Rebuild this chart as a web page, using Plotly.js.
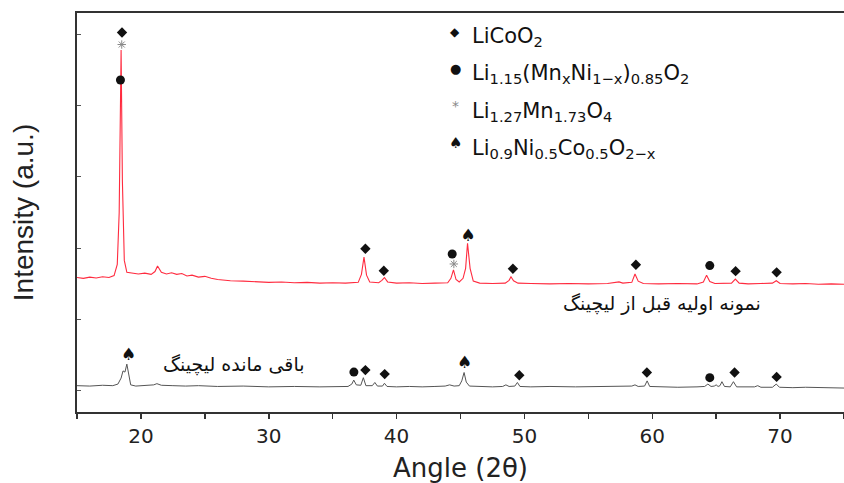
<!DOCTYPE html>
<html>
<head>
<meta charset="utf-8">
<script src="https://cdn.plot.ly/plotly-3.0.1.min.js"></script>
<style>html,body{margin:0;padding:0;background:#fff;}#chart{width:844px;height:483px;}</style>
</head>
<body>
<div id="chart"></div>
<script>
// Pattern before leaching (red)
const redAngle = [15,15.5,16,16.5,17,17.5,17.9,18.15,18.3,18.45,18.55,18.7,18.9,19.3,19.8,20.3,20.8,21.1,21.3,21.6,22.0,22.4,22.8,23.2,23.6,24.0,24.5,25.0,25.5,26.0,27,28,29,30,31,32,33,34,35,36,37.0,37.25,37.45,37.65,37.9,38.6,38.85,39.05,39.3,40,41,42,43,44.0,44.25,44.45,44.65,44.9,45.2,45.4,45.55,45.75,46.0,46.5,47.5,48.5,48.8,48.95,49.15,49.5,50.5,52,53.5,55,56.5,57.2,57.4,57.7,58.4,58.65,58.9,59.3,60.5,62,63.5,64.0,64.25,64.5,64.9,66.2,66.5,66.8,67.5,68.5,69.4,69.7,70.0,71,72,73,74,75];
const redInt = [33.7,33.5,33.8,33.6,33.9,33.7,34.2,37,50,90.7,58,38,35,34.9,34.6,34.8,34.5,35.2,36.6,35.0,34.6,34.9,34.5,34.7,34.1,34.3,33.8,34.0,33.5,33.2,32.9,32.8,32.6,32.5,32.6,32.4,32.5,32.3,32.4,32.3,32.5,34.5,38.8,34.3,32.6,32.4,33.0,33.7,32.6,32.3,32.4,32.2,32.3,32.4,33.5,35.6,33.2,32.6,33.5,36,42.3,36,32.8,32.3,32.2,32.3,33.0,33.9,32.9,32.3,32.2,32.1,32.2,32.1,32.2,32.4,32.6,32.3,32.5,34.6,32.8,32.2,32.1,32.2,32.1,32.6,34.3,32.7,32.2,32.3,33.3,32.3,32.1,32.2,32.3,32.9,32.2,32.1,32.2,32.0,32.1,32.0];

// Leaching residue (black)
const blackAngle = [15,16,17,17.8,18.2,18.45,18.6,18.75,18.9,19.05,19.2,19.6,20.5,21.0,21.25,21.6,22.5,23.5,24.5,26,28,30,32,34,36.2,36.5,36.65,36.85,37.2,37.4,37.6,38.1,38.3,38.5,38.9,39.05,39.25,40,41,42,43,43.8,44.15,44.5,44.9,45.1,45.28,45.45,45.7,46.5,47.5,48.3,48.55,48.8,49.25,49.45,49.65,50.5,52,54,56,57.5,58.4,58.65,58.9,59.4,59.6,59.8,60.5,62,63.5,64.1,64.35,64.6,64.85,65.0,65.15,65.3,65.45,65.65,66.1,66.35,66.6,67.5,68.0,68.25,68.5,69.4,69.7,69.95,71,72,73,74,75];
const blackInt = [6.6,6.5,6.7,6.6,7.0,8.5,10.3,10.0,12.0,9.0,6.8,6.5,6.6,6.8,7.1,6.7,6.6,6.5,6.6,6.4,6.5,6.3,6.4,6.3,6.4,7.0,8.0,6.8,6.7,8.6,6.6,6.6,7.4,6.5,6.5,7.2,6.4,6.3,6.4,6.3,6.4,6.5,6.8,6.5,6.6,7.8,9.9,7.5,6.5,6.4,6.3,6.4,6.8,6.4,6.5,7.4,6.4,6.3,6.4,6.3,6.4,6.3,6.5,6.8,6.4,6.5,7.8,6.4,6.3,6.2,6.3,6.4,7.0,6.4,6.5,6.8,6.4,6.6,7.6,6.4,6.3,7.6,6.3,6.2,6.3,6.6,6.2,6.2,7.0,6.2,6.1,6.2,6.1,6.1,6.0];

// Phase markers
const licoo2Angle = [18.52,37.56,39.0,49.1,58.72,66.52,69.73,37.56,39.07,49.6,59.58,66.44,69.73];
const licoo2Int = [95.1,40.9,35.4,35.9,36.9,35.3,35.0,10.5,9.5,9.2,9.9,9.9,8.8];
const limnniAngle = [18.4,44.35,64.5,36.66,64.5];
const limnniInt = [83.2,39.6,36.7,10.0,8.6];
const limnAngle = [18.5,44.48];
const limnInt = [92.1,37.1];
const linicoAngle = [45.6,19.04,45.33];
const linicoInt = [43.8,14.1,12.0];

// Legend entries
const legendSymbols = ['◆','●','*','♠'];
const legendLabels = [
  'LiCoO<sub>2</sub>',
  'Li<sub>1.15</sub>(Mn<sub>x</sub>Ni<sub>1\u2212x</sub>)<sub>0.85</sub>O<sub>2</sub>',
  'Li<sub>1.27</sub>Mn<sub>1.73</sub>O<sub>4</sub>',
  'Li<sub>0.9</sub>Ni<sub>0.5</sub>Co<sub>0.5</sub>O<sub>2\u2212x</sub>'
];
const legendSymbolSizes = [12,13,14,15];
const legendSymbolColors = ['#111','#111','#888','#111'];

const xTickVals = [20,30,40,50,60,70];
const xTickText = ['20','30','40','50','60','70'];

const sampleLabels = ['نمونه اولیه قبل از لیچینگ','باقی مانده لیچینگ'];
const sampleLabelAngle = [60.8, 27.3];
const sampleLabelInt = [27.1, 11.8];

const traces = [
  {x: redAngle, y: redInt, type:'scatter', mode:'lines', line:{color:'#ff2b3f', width:1.1}, hoverinfo:'skip'},
  {x: blackAngle, y: blackInt, type:'scatter', mode:'lines', line:{color:'#555', width:1}, hoverinfo:'skip'},
  {x: licoo2Angle, y: licoo2Int, type:'scatter', mode:'markers', marker:{symbol:'diamond', size:8, color:'#111'}},
  {x: limnniAngle, y: limnniInt, type:'scatter', mode:'markers', marker:{symbol:'circle', size:9, color:'#111'}},
  {x: limnAngle, y: limnInt, type:'scatter', mode:'markers', marker:{symbol:'asterisk-open', size:7, color:'#888', line:{color:'#888', width:1}}},
  {x: linicoAngle, y: linicoInt, type:'scatter', mode:'text', text: linicoAngle.map(()=> '♠'), textposition:'middle center', textfont:{family:'DejaVu Sans', size:17, color:'#111'}}
];

const legX0 = 0.493, legTextX = 0.512;
const legY = [0.953, 0.86, 0.767, 0.674];
const annotations = [];
legendLabels.forEach((lab, i) => {
  annotations.push({xref:'paper', yref:'paper', x: legX0, y: legY[i], text: legendSymbols[i], showarrow:false, xanchor:'center', yanchor:'middle', font:{family:'DejaVu Sans', size: legendSymbolSizes[i], color: legendSymbolColors[i]}});
  annotations.push({xref:'paper', yref:'paper', x: legTextX, y: legY[i] - 0.014, text: lab, showarrow:false, xanchor:'left', yanchor:'middle', font:{family:'DejaVu Sans', size:21, color:'#111'}});
});
sampleLabels.forEach((lab, i) => {
  annotations.push({x: sampleLabelAngle[i], y: sampleLabelInt[i], xref:'x', yref:'y', text: lab, showarrow:false, xanchor:'center', yanchor:'middle', font:{family:'DejaVu Sans', size:19, color:'#111'}});
});

const layout = {
  width: 844, height: 483,
  margin: {l:77, r:0, t:13, b:71},
  paper_bgcolor:'#fff', plot_bgcolor:'#fff',
  showlegend:false,
  xaxis: {
    range:[15,75], showgrid:false, zeroline:false,
    showline:true, linecolor:'#333', linewidth:2, mirror:true,
    ticks:'outside', ticklen:5, tickwidth:1.5, tickcolor:'#333',
    tickvals: xTickVals, ticktext: xTickText,
    minor:{dtick:5, tick0:15, ticks:'outside', ticklen:5, tickwidth:1.5, tickcolor:'#333'},
    tickfont:{family:'DejaVu Sans', size:20, color:'#222'},
    title:{text:'Angle (2θ)', font:{family:'DejaVu Sans', size:26, color:'#222'}, standoff:13}
  },
  yaxis: {
    range:[0,100], showgrid:false, zeroline:false,
    showline:true, linecolor:'#333', linewidth:2,
    ticks:'inside', ticklen:4, tickwidth:1, tickcolor:'#555',
    tick0:5.5, dtick:17.8, showticklabels:false,
    title:{text:'Intensity (a.u.)', font:{family:'Liberation Sans Narrow, Arial Narrow, Liberation Sans', size:28, color:'#222'}, standoff:33}
  },
  annotations: annotations
};

Plotly.newPlot('chart', traces, layout, {displayModeBar:false, staticPlot:true});
</script>
</body>
</html>
